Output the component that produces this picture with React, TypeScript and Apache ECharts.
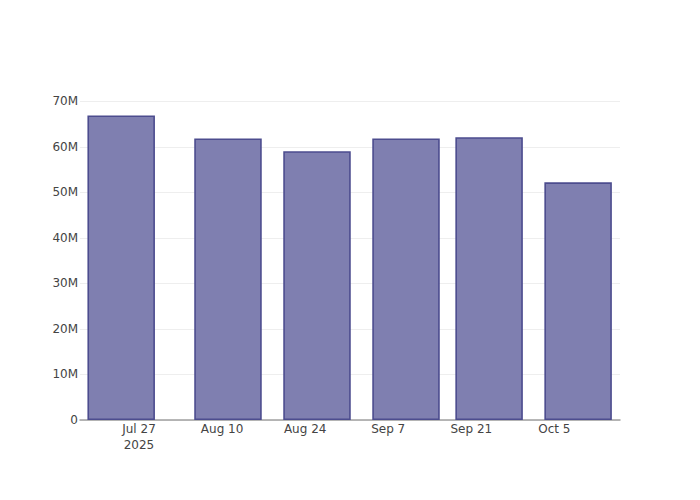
import React, { useEffect, useRef } from "react";
import * as echarts from "echarts";

const barDates: string[] = ["2025-07-24", "2025-08-11", "2025-08-26", "2025-09-10", "2025-09-24", "2025-10-09"];
const barValues: number[] = [66900000, 61850000, 59050000, 61850000, 62100000, 52200000];
const xTickDates: string[] = ["2025-07-27", "2025-08-10", "2025-08-24", "2025-09-07", "2025-09-21", "2025-10-05"];
const yTicks: number[] = [0, 10000000, 20000000, 30000000, 40000000, 50000000, 60000000, 70000000];

const DAY = 86400000;
const MONTHS = ["Jan", "Feb", "Mar", "Apr", "May", "Jun", "Jul", "Aug", "Sep", "Oct", "Nov", "Dec"];
const toMs = (s: string) => {
  const [y, m, d] = s.split("-").map(Number);
  return Date.UTC(y, m - 1, d);
};

export default function App() {
  const ref = useRef<HTMLDivElement>(null);
  useEffect(() => {
    if (!ref.current) return;
    const chart = echarts.init(ref.current, undefined, { renderer: "svg" });
    const tickMs = xTickDates.map(toMs);
    const xMin = tickMs[0] - 9.94 * DAY;
    const xMax = xMin + 91 * DAY;
    const font = "DejaVu Sans";
    chart.setOption({
      animation: false,
      grid: { left: 80, right: 80, top: 101.3, bottom: 80, containLabel: false },
      xAxis: {
        type: "value",
        min: xMin,
        max: xMax,
        axisLine: { show: true, lineStyle: { color: "#a0a0a0", width: 1.5 } },
        axisTick: { show: false, customValues: tickMs },
        splitLine: { show: false },
        axisLabel: {
          customValues: tickMs,
          margin: 1,
          color: "#444",
          fontFamily: font,
          fontSize: 12,
          lineHeight: 16,
          formatter: (v: number) => {
            const d = new Date(v);
            const s = MONTHS[d.getUTCMonth()] + " " + d.getUTCDate();
            return Math.abs(v - tickMs[0]) < DAY / 2 ? s + "\n" + d.getUTCFullYear() : s;
          },
        },
      },
      yAxis: {
        type: "value",
        min: yTicks[0],
        max: yTicks[yTicks.length - 1],
        interval: 10000000,
        axisLine: { show: false },
        axisTick: { show: false },
        splitLine: { show: true, lineStyle: { color: "#eeeeee", width: 1 } },
        axisLabel: {
          margin: 2,
          color: "#444",
          fontFamily: font,
          fontSize: 12,
          formatter: (v: number) => (v === 0 ? "0" : v / 1000000 + "M"),
        },
      },
      series: [
        {
          type: "bar",
          data: barDates.map((d, i) => [toMs(d), barValues[i]]),
          barWidth: 67.5,
          itemStyle: { color: "#7f7fb0", borderColor: "#4c4c8e", borderWidth: 1.6 },
        },
      ],
    });
    return () => chart.dispose();
  }, []);
  return <div ref={ref} style={{ width: 700, height: 500, position: "absolute", left: 0, top: 0 }} />;
}
